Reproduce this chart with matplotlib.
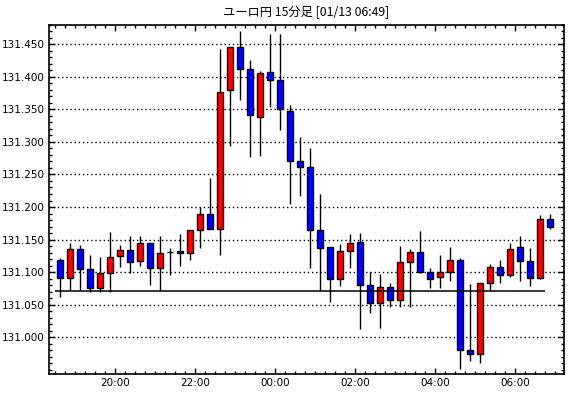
import matplotlib
matplotlib.use('Agg')
import matplotlib.pyplot as plt
import matplotlib.dates as mdates
from matplotlib.ticker import MultipleLocator, FixedLocator, FormatStrFormatter
import numpy as np
import pandas as pd

plt.rcParams['font.family'] = ['DejaVu Sans']

TITLE = 'ユーロ円 15分足 [01/13 06:49]'
START = '2021-01-12 18:30'

opens = [131.119, 131.091, 131.136, 131.105, 131.076, 131.098, 131.125, 131.134, 131.117, 131.145,
         131.106, 131.131, 131.133, 131.130, 131.165, 131.190, 131.166, 131.380, 131.445, 131.412,
         131.339, 131.408, 131.395, 131.347, 131.271, 131.261, 131.165, 131.139, 131.089, 131.133,
         131.146, 131.080, 131.052, 131.077, 131.057, 131.115, 131.131, 131.100, 131.092, 131.100,
         131.119, 130.980, 130.974, 131.084, 131.108, 131.095, 131.138, 131.117, 131.091, 131.182]
highs = [131.122, 131.145, 131.141, 131.126, 131.124, 131.162, 131.142, 131.156, 131.155, 131.145,
         131.156, 131.137, 131.158, 131.165, 131.200, 131.245, 131.443, 131.446, 131.470, 131.426,
         131.409, 131.466, 131.466, 131.356, 131.308, 131.290, 131.220, 131.139, 131.144, 131.158,
         131.160, 131.100, 131.097, 131.083, 131.140, 131.136, 131.163, 131.106, 131.127, 131.138,
         131.122, 131.082, 131.084, 131.113, 131.119, 131.145, 131.156, 131.137, 131.187, 131.190]
lows = [131.062, 131.072, 131.072, 131.069, 131.069, 131.069, 131.108, 131.099, 131.109, 131.080,
        131.071, 131.096, 131.110, 131.119, 131.137, 131.166, 131.127, 131.293, 131.365, 131.277,
        131.278, 131.353, 131.319, 131.204, 131.217, 131.106, 131.071, 131.054, 131.079, 131.107,
        131.012, 131.037, 131.015, 131.046, 131.046, 131.046, 131.098, 131.075, 131.076, 131.086,
        130.952, 130.963, 130.960, 131.071, 131.083, 131.093, 131.087, 131.078, 131.089, 131.167]
closes = [131.091, 131.136, 131.105, 131.076, 131.098, 131.124, 131.134, 131.116, 131.145, 131.107,
          131.130, 131.131, 131.130, 131.165, 131.190, 131.166, 131.377, 131.445, 131.412, 131.341,
          131.406, 131.395, 131.350, 131.271, 131.261, 131.165, 131.137, 131.089, 131.133, 131.145,
          131.080, 131.052, 131.077, 131.057, 131.116, 131.131, 131.100, 131.090, 131.100, 131.119,
          130.980, 130.974, 131.084, 131.108, 131.095, 131.135, 131.117, 131.091, 131.182, 131.169]

ref_level = 131.071
y_range = (130.9436, 131.480)
y_labels = [131.000, 131.050, 131.100, 131.150, 131.200, 131.250, 131.300, 131.350, 131.400, 131.450]

times = pd.date_range(START, periods=len(opens), freq='15min')
slot = 15 / (24 * 60)
t0 = mdates.date2num(times)
xc = t0 + slot / 2

fig = plt.figure(figsize=(5.7, 3.98), dpi=100)
ax = fig.add_axes([49 / 570, 1 - 374 / 398, (564 - 49) / 570, (374 - 24.7) / 398])

for x, o, h, l, c in zip(xc, opens, highs, lows, closes):
    col = '#ff0000' if c > o else ('#0000ff' if c < o else 'black')
    ax.vlines(x, l, h, color='black', lw=1, zorder=2)
    ax.bar(x, c - o, bottom=o, width=slot * 0.58, color=col,
           edgecolor='black', linewidth=1, zorder=3)

ax.hlines(ref_level, t0[0], t0[-1], color='black', lw=1.1, zorder=4)

ax.set_ylim(*y_range)
ax.set_xlim(t0[6] - 6.63 * slot, t0[6] + 44.87 * slot)

ax.yaxis.set_major_locator(FixedLocator(y_labels))
ax.yaxis.set_minor_locator(MultipleLocator(0.01))
ax.yaxis.set_major_formatter(FormatStrFormatter('%.3f'))
ax.xaxis.set_major_locator(mdates.HourLocator(byhour=range(0, 24, 2)))
ax.xaxis.set_minor_locator(mdates.MinuteLocator(byminute=[0, 15, 30, 45]))
ax.xaxis.set_major_formatter(mdates.DateFormatter('%H:%M'))

ax.grid(axis='y', which='major', color='black', linestyle=(0, (1, 2)), lw=1)
ax.set_axisbelow(True)

ax.tick_params(which='both', direction='in', top=True, right=True,
               labelsize=7.5, width=1, colors='black')
ax.tick_params(which='major', length=4, pad=3)
ax.tick_params(which='minor', length=2.5)
for s in ax.spines.values():
    s.set_linewidth(1.2)

fig.text((49 + 564) / 2 / 570, 1 - 12 / 398, TITLE, ha='center', va='center',
         fontsize=8.8, family=['Noto Sans CJK JP', 'DejaVu Sans'])

fig.savefig('out.png', dpi=100)
